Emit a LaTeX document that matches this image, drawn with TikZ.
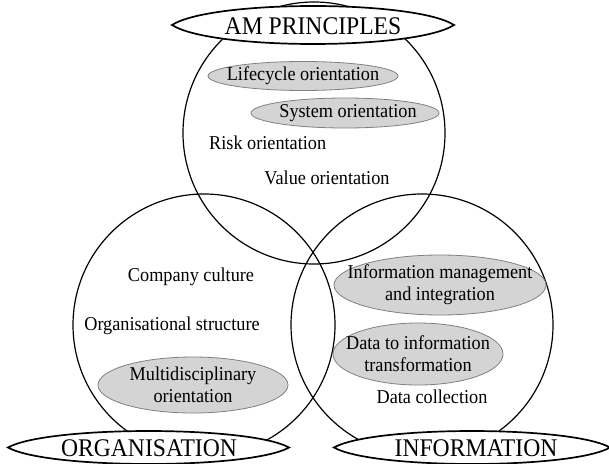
\documentclass[tikz,border=0pt]{standalone}
\usepackage{fontspec}
\setmainfont{Liberation Serif}[FakeStretch=0.93]
\usetikzlibrary{shapes.geometric}
\tikzset{
  ring/.style={draw=black, line width=1.2pt},
  titlelens/.style={draw=black, fill=white, line width=1.7pt},
  titletext/.style={font=\fontsize{25.4}{27}\selectfont, inner sep=0pt},
  plain/.style={font=\fontsize{19.6}{22}\selectfont, inner sep=0pt, align=center},
  grayell/.style={ellipse, draw=black!50, fill=black!17, line width=0.8pt, inner sep=0pt},
}
% lens: center x, center y, rx, ry
\newcommand{\mylens}[4]{%
  \draw[titlelens] (#1-#3,#2) .. controls (#1-#3+0.28*#3,#2-1.333*#4) and (#1+#3-0.28*#3,#2-1.333*#4) .. (#1+#3,#2)
     .. controls (#1+#3-0.28*#3,#2+1.333*#4) and (#1-#3+0.28*#3,#2+1.333*#4) .. cycle;}
\begin{document}
\begin{tikzpicture}[x=1pt,y=-1pt]
\useasboundingbox (0,0) rectangle (609,463);
% circles
\draw[ring] (314,133) circle (131);
\draw[ring] (204,325) circle (131);
\draw[ring] (422,325) circle (131);
% title lenses
\mylens{313}{25}{141}{19}
\mylens{148.5}{447.5}{140.5}{16.5}
\mylens{472}{447.5}{138}{16.5}
\node[titletext] (am) at (313,26) {AM PRINCIPLES};
\node[titletext] (org) at (149,448) {ORGANISATION};
\node[titletext] (inf) at (476,448) {INFORMATION};
% AM principles items
\node[grayell, minimum width=190, minimum height=29] (life) at (303,76) {};
\node[plain] (lifet) at (life.center) {Lifecycle orientation};
\node[grayell, minimum width=188, minimum height=30] (sys) at (345,113) {};
\node[plain] (syst) at ([xshift=3pt]sys.center) {System orientation};
\node[plain, anchor=west] (risk) at (209,143) {Risk orientation};
\node[plain] (value) at (327,178) {Value orientation};
% organisation items
\node[plain] (culture) at (191,277) {Company culture};
\node[plain] (struct) at (172,326) {Organisational structure};
\node[grayell, minimum width=190, minimum height=56] (multi) at (193,385) {};
\node[plain] (multit) at (multi.center) {Multidisciplinary\\orientation};
\node[grayell, minimum width=212, minimum height=60] (imi) at (440,285) {};
\node[plain] (imit) at (imi.center) {Information management\\and integration};
\node[grayell, minimum width=170, minimum height=62] (dit) at (418,354) {};
\node[plain] (ditt) at (dit.center) {Data to information\\transformation};
\node[plain] (dc) at (432,397) {Data collection};
\end{tikzpicture}
\end{document}
